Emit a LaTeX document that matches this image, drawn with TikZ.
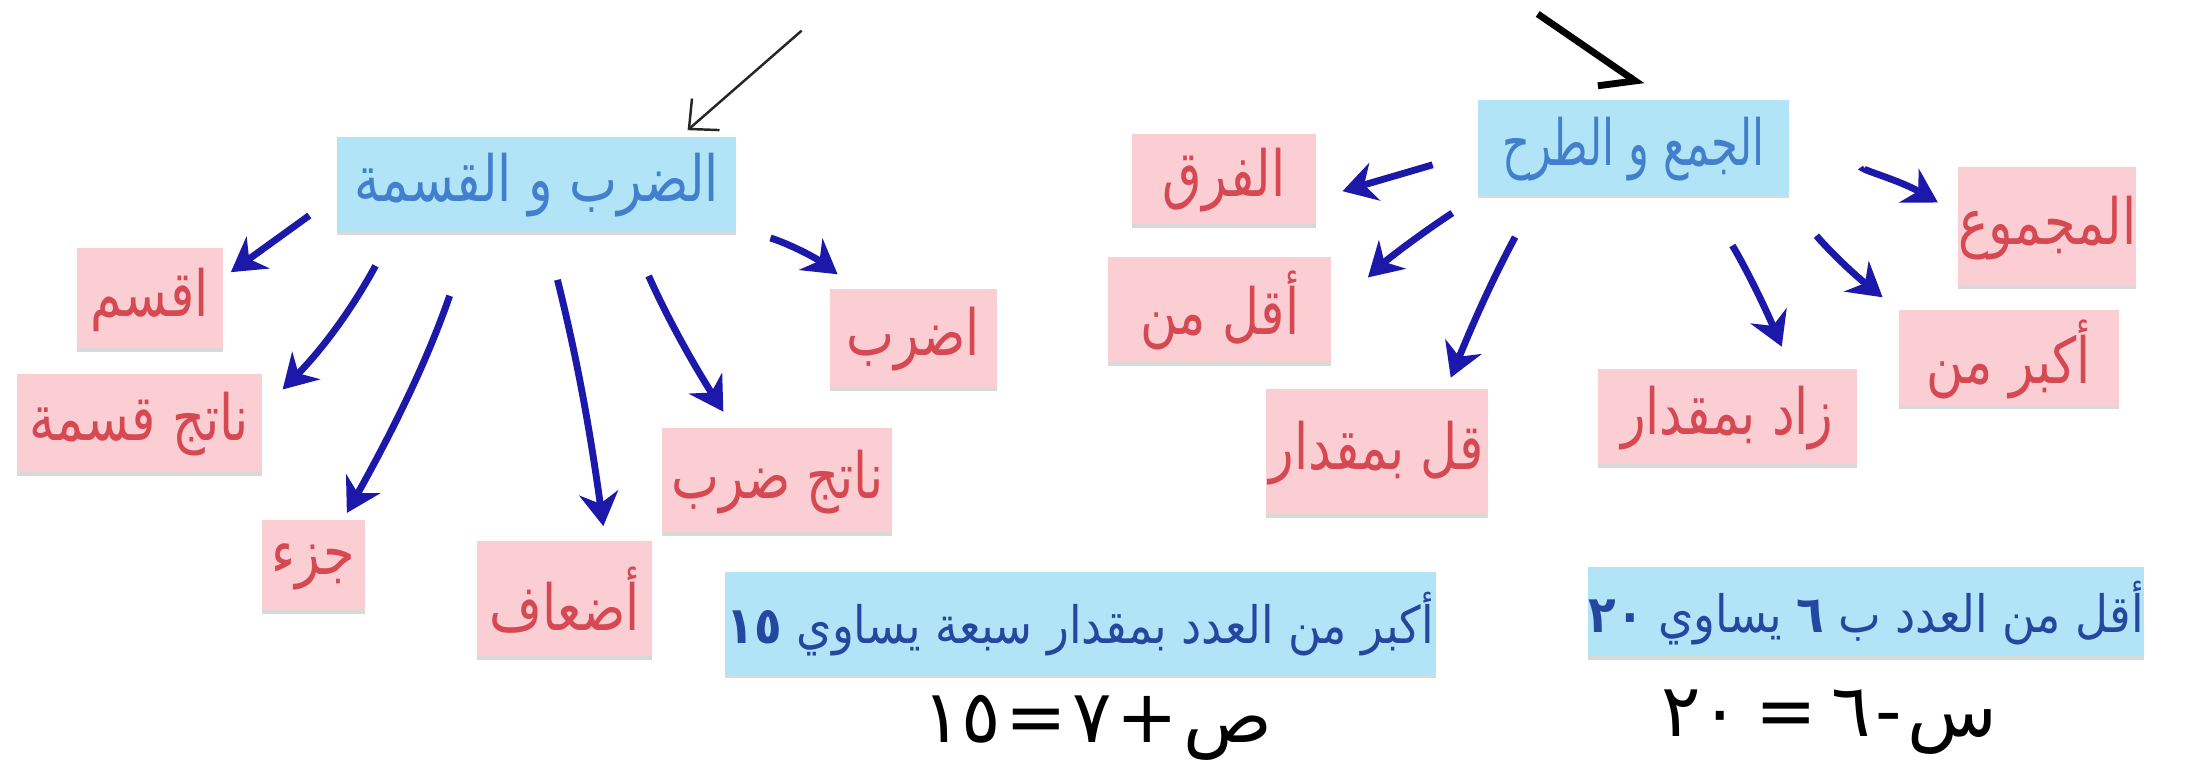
\documentclass[tikz,border=0pt]{standalone}
\usepackage{fontspec}
\usetikzlibrary{arrows.meta}
\TeXXeTstate=1
\newfontfamily\notefont[Script=Arabic,FakeStretch=0.8]{DejaVu Sans}
\newfontfamily\narrowfont[Script=Arabic,FakeStretch=0.68]{DejaVu Sans}
\newfontfamily\arabicfont[Script=Arabic,FakeStretch=0.88]{DejaVu Sans}
\newfontfamily\handfont[Script=Arabic]{DejaVu Sans}
\definecolor{notepink}{RGB}{250,206,210}
\definecolor{noteblue}{RGB}{178,228,247}
\definecolor{inkred}{RGB}{214,72,82}
\definecolor{inkblue}{RGB}{66,128,205}
\definecolor{inkdark}{RGB}{36,72,160}
\definecolor{arrowblue}{RGB}{28,24,170}
\tikzset{
  note/.style={inner sep=0pt, path picture={\draw[line width=1.2pt, black!15]
    (path picture bounding box.south west) -- (path picture bounding box.south east);}},
  topic/.style={note, fill=noteblue, text=inkblue, font=\notefont\fontsize{13}{15}\selectfont},
  word/.style={note, fill=notepink, text=inkred, font=\notefont\fontsize{13}{15}\selectfont},
  sentence/.style={note, fill=noteblue, text=inkdark, font=\arabicfont\fontsize{10.5}{12}\selectfont},
  handeq/.style={text=black, font=\handfont\fontsize{15}{17}\selectfont},
  link/.style={arrowblue, line width=1.4pt, -{Stealth[length=2.4mm,width=2.8mm]}},
}

\begin{document}
\begin{tikzpicture}[x=0.1mm,y=-0.1mm]
\fill[white] (0,0) rectangle (1568,559);

\coordinate (fromL) at (575,22);
\coordinate (fromR) at (1103,10);

\node[topic, minimum width=28.6mm, minimum height=7mm] (mul) at (385,133) {\beginR الضرب و القسمة\endR};
\node[topic, minimum width=22.3mm, minimum height=7mm, font=\narrowfont\fontsize{13}{15}\selectfont] (addsub) at (1171.5,107) {\beginR الجمع و الطرح\endR};

\node[word, minimum width=10.5mm, minimum height=7.4mm] (aqsim) at (107.5,215) {اقسم};
\node[word, minimum width=17.6mm, minimum height=7.3mm] (natqism) at (100,304.5) {\beginR ناتج قسمة\endR};
\node[word, minimum width=7.4mm, minimum height=6.7mm] (juz) at (225,406.5) {جزء};
\node[word, minimum width=12.6mm, minimum height=8.5mm] (adaf) at (405,430.5) {أضعاف};
\node[word, minimum width=16.5mm, minimum height=7.7mm] (natdarb) at (557.5,345.5) {\beginR ناتج ضرب\endR};
\node[word, minimum width=12mm, minimum height=7.3mm] (idrib) at (655,243.5) {اضرب};

\node[word, minimum width=13.2mm, minimum height=6.7mm] (farq) at (878,129.5) {الفرق};
\node[word, minimum width=16mm, minimum height=7.8mm] (aqall) at (875,223) {\beginR أقل من\endR};
\node[word, minimum width=15.9mm, minimum height=9.2mm] (qall) at (987.5,325) {\beginR قل بمقدار\endR};
\node[word, minimum width=18.6mm, minimum height=7mm] (zad) at (1239,300) {\beginR زاد بمقدار\endR};
\node[word, minimum width=15.8mm, minimum height=7.1mm] (akbar) at (1441,257.5) {\beginR أكبر من\endR};
\node[word, minimum width=12.7mm, minimum height=8.7mm] (majmu) at (1468.5,163.5) {المجموع};

\node[sentence, minimum width=51mm, minimum height=7.6mm] (ex1) at (775,448) {\beginR أكبر من العدد بمقدار سبعة يساوي {\bfseries ١٥}\endR};
\node[sentence, minimum width=39.7mm, minimum height=6.6mm] (ex2) at (1338.5,440) {\beginR أقل من العدد ب {\bfseries ٦} يساوي {\bfseries ٢٠}\endR};

\node[handeq] (eq1) at (787,522) {\beginR ص\kern1pt+\kern1pt٧\kern1pt=\kern1pt١٥\endR};
\node[handeq] (eq2) at (1312,518) {\beginR س\kern1pt-\kern1pt٦\kern3pt=\kern3pt٢٠\endR};

\draw[black!85, line width=0.5pt, shorten >=0.6mm, -{Straight Barb[length=1.6mm,width=3mm]}] (fromL) -- (mul.19);
\draw[line width=1.4pt, shorten >=1.7mm, -{Straight Barb[harpoon,swap,length=2mm,width=3.6mm]}] (fromR) -- (addsub.60);

\draw[link, shorten <=2.4mm, shorten >=0.6mm] (mul.183) -- (aqsim.17);
\draw[link, shorten <=2.5mm, shorten >=2mm] (mul.199) to[bend left=8] (natqism.7);
\draw[link, shorten <=4.6mm, shorten >=0.5mm] (mul.217) to[bend left=5] (juz.58);
\draw[link, shorten <=3.3mm, shorten >=1mm] (mul.281) to[bend left=3] (adaf.56);
\draw[link, shorten <=3.2mm, shorten >=1.3mm] (mul.332) to[bend right=4] (natdarb.129);
\draw[link, shorten <=2.5mm, shorten >=1.6mm] (mul.348) to[bend left=10] (idrib.138);

\draw[link, shorten <=3.3mm, shorten >=1.9mm] (addsub.181) -- (farq.349);
\draw[link, shorten <=2.1mm, shorten >=3.5mm] (addsub.197) to[bend right=5] (aqall.0);
\draw[link, shorten <=3.1mm, shorten >=0.8mm] (addsub.207) to[bend right=3] (qall.43);
\draw[link, shorten <=3.9mm, shorten >=1.7mm] (addsub.325) to[bend left=4] (zad.38);
\draw[link, shorten <=3.4mm, shorten >=1.4mm] (addsub.342) to[bend right=6] (akbar.156);
\draw[link, shorten <=5.4mm, shorten >=1.6mm] (addsub.353) to[bend left=15] (majmu.171);
\end{tikzpicture}
\end{document}
